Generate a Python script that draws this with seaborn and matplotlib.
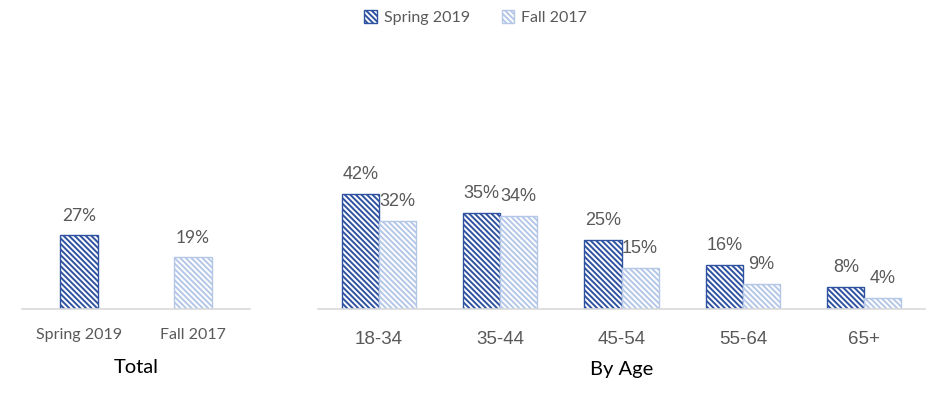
import matplotlib
matplotlib.use("Agg")
import matplotlib.pyplot as plt
from matplotlib.patches import Patch
import seaborn as sns
import pandas as pd

# data
seasons = ["Spring 2019", "Fall 2017"]
total_values = [27, 19]

age_groups = ["18-34", "35-44", "45-54", "55-64", "65+"]
spring_2019 = [42, 35, 25, 16, 8]
fall_2017 = [32, 34, 15, 9, 4]

dark_blue = "#2F52A0"
light_blue = "#B4C7E7"
gray_text = "#595959"
hatch = "\\" * 6

sns.set_theme(style="white")
plt.rcParams["font.family"] = ["Lato", "DejaVu Sans"]
plt.rcParams["hatch.linewidth"] = 1.4

total_df = pd.DataFrame({"season": seasons, "value": total_values})
age_df = pd.DataFrame({
    "age": age_groups * 2,
    "season": [seasons[0]] * len(age_groups) + [seasons[1]] * len(age_groups),
    "value": spring_2019 + fall_2017,
})

fig = plt.figure(figsize=(9.51, 3.94), dpi=100)
ax1 = fig.add_axes([22 / 951, 85 / 394, 228 / 951, 269 / 394])
ax2 = fig.add_axes([318 / 951, 85 / 394, 607 / 951, 269 / 394])

colors = {seasons[0]: dark_blue, seasons[1]: light_blue}

sns.barplot(data=total_df, x="season", y="value", hue="season",
            palette=["white", "white"], width=0.33, legend=False, ax=ax1)
sns.barplot(data=age_df, x="age", y="value", hue="season",
            palette=["white", "white"], width=0.61, legend=False, ax=ax2)


def style_bars(ax, font, size):
    for cont, s in zip(ax.containers, seasons):
        for bar in cont:
            bar.set_facecolor("white")
            bar.set_edgecolor(colors[s])
            bar.set_hatch(hatch)
            bar.set_linewidth(1.0)
        ax.bar_label(cont, labels=[f"{v:.0f}%" for v in cont.datavalues],
                     padding=8, color=gray_text, fontsize=size, family=font)


style_bars(ax1, ["Lato", "DejaVu Sans"], 12.5)
style_bars(ax2, ["Liberation Sans", "DejaVu Sans"], 13)

for ax in (ax1, ax2):
    ax.set_ylim(0, 98)
    ax.set_xlim(-0.5, len(ax.get_xticks()) - 0.5)
    ax.set_yticks([])
    ax.set_ylabel("")
    sns.despine(ax=ax, left=True)
    ax.spines["bottom"].set_color("#D9D9D9")
    ax.spines["bottom"].set_linewidth(1.2)
    ax.tick_params(axis="x", length=0, colors=gray_text)

ax1.tick_params(axis="x", labelsize=11.5, pad=14)
ax2.tick_params(axis="x", labelsize=13.5, pad=16)
for lab in ax2.get_xticklabels():
    lab.set_family(["Liberation Sans", "DejaVu Sans"])

ax1.set_xlabel("Total", fontsize=14.5, color="black", labelpad=12)
ax2.set_xlabel("By Age", fontsize=14.5, color="black", labelpad=9)

handles = [Patch(facecolor="white", edgecolor=colors[s], hatch=hatch, label=s) for s in seasons]
fig.legend(handles=handles, loc="upper center", bbox_to_anchor=(0.5, 1.01), ncol=2,
           frameon=False, fontsize=11.5, labelcolor=gray_text,
           handlelength=0.8, handleheight=0.8, handletextpad=0.4, columnspacing=2.0)

fig.savefig("out.png", dpi=100)
